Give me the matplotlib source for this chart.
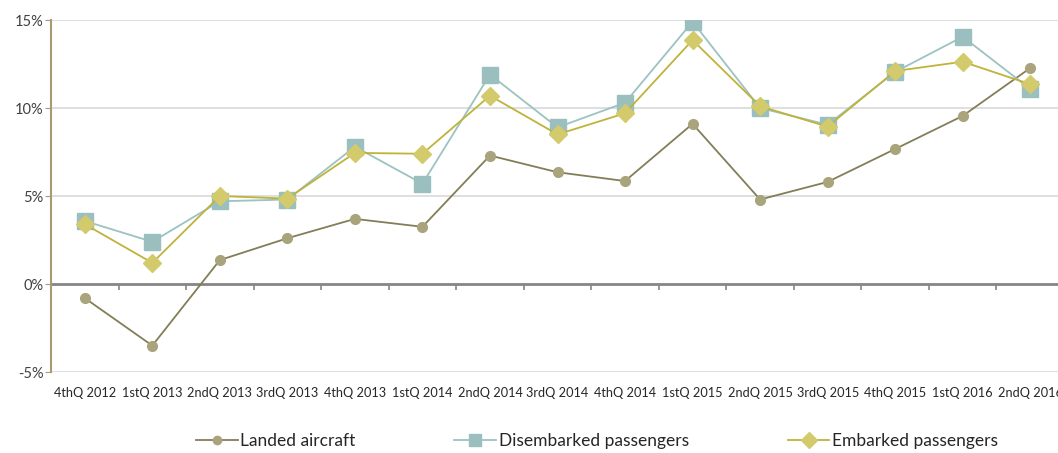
import matplotlib
matplotlib.use("Agg")
import matplotlib.pyplot as plt
from matplotlib.ticker import FuncFormatter

categories = ["4thQ 2012", "1stQ 2013", "2ndQ 2013", "3rdQ 2013", "4thQ 2013",
              "1stQ 2014", "2ndQ 2014", "3rdQ 2014", "4thQ 2014", "1stQ 2015",
              "2ndQ 2015", "3rdQ 2015", "4thQ 2015", "1stQ 2016", "2ndQ 2016"]
landed = [-0.8, -3.5, 1.36, 2.6, 3.7, 3.25, 7.3, 6.35, 5.85, 9.1,
          4.8, 5.8, 7.67, 9.55, 12.27]
disembarked = [3.58, 2.4, 4.7, 4.8, 7.8, 5.7, 11.9, 8.9, 10.3, 14.9,
               10.0, 9.05, 12.05, 14.05, 11.08]
embarked = [3.4, 1.2, 5.0, 4.85, 7.45, 7.4, 10.7, 8.5, 9.7, 13.86,
            10.1, 8.94, 12.1, 12.63, 11.35]
yticks = [-5, 0, 5, 10, 15]

plt.rcParams['font.family'] = ['Lato', 'DejaVu Sans']

W, H = 1058, 453
fig = plt.figure(figsize=(W / 100, H / 100), dpi=100)
left, right, top, bottom = 51, 1064, 20, 372
ax = fig.add_axes([left / W, (H - bottom) / H, (right - left) / W, (bottom - top) / H])

x = list(range(len(categories)))
ax.plot(x, landed, color="#837D58", lw=1.3, marker="o", ms=7,
        mfc="#A9A47C", mec="#A9A47C", label="Landed aircraft", zorder=3)
ax.plot(x, disembarked, color="#9CC2C2", lw=1.3, marker="s", ms=11,
        mfc="#9BBFBE", mec="#9BBFBE", label="Disembarked passengers", zorder=3)
ax.plot(x, embarked, color="#BFB33A", lw=1.3, marker="D", ms=9,
        mfc="#D3CB6B", mec="#D3CB6B", label="Embarked passengers", zorder=4)

ax.set_xlim(-0.5, len(categories) - 0.5)
ax.set_ylim(-5, 15)
ax.set_yticks(yticks)
ax.yaxis.set_major_formatter(FuncFormatter(lambda v, p: f"{v:.0f}%"))
for yv in yticks:
    if yv != 0:
        ax.axhline(yv, color="#D9D9D9", lw=1.2, zorder=1)

for s in ["top", "right", "bottom"]:
    ax.spines[s].set_visible(False)
ax.spines["left"].set_color("#A89B74")
ax.spines["left"].set_linewidth(1.5)
ax.tick_params(axis="y", length=4, color="#A89B74", labelsize=10.5,
               labelcolor="#404040", pad=1.5)

ax.set_xticks(x)
ax.set_xticklabels(categories)
ax.tick_params(axis="x", length=0, labelsize=9.2, labelcolor="#262626", pad=11)

sec = ax.secondary_xaxis(0.25)
sec.set_xticks([i - 0.5 for i in range(1, len(categories) + 1)])
sec.set_xticklabels([])
sec.spines["bottom"].set_color("#858585")
sec.spines["bottom"].set_linewidth(2)
sec.tick_params(axis="x", length=4, width=1.2, color="#858585", direction="out")

fig.legend(loc="center", bbox_to_anchor=(597 / W, 1 - 441 / H), ncol=3,
           frameon=False, fontsize=12.5, columnspacing=5.7, handlelength=2.4,
           handletextpad=0.15, labelcolor="#262626", markerscale=0.85)

fig.savefig("out.png", dpi=100)
